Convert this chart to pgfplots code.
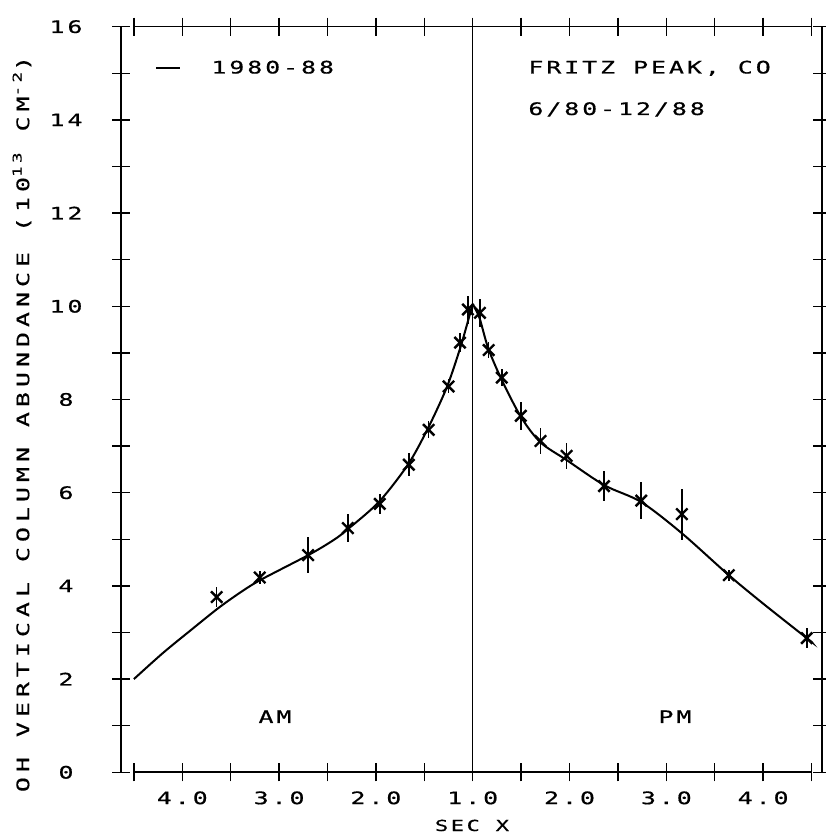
\documentclass[border=0pt]{standalone}
\usepackage{pgfplots}
\pgfplotsset{compat=1.18}
\usepackage{pgfplotstable}
\usepackage{fontspec}
\setmainfont{DejaVu Sans Mono}[FakeStretch=1.45,LetterSpace=17,FakeBold=0.6]

% x position u: AM side u = 1 - sec X, PM side u = sec X - 1
\pgfplotstableread{
u v e
-2.645 3.76 0.22
-2.200 4.18 0.15
-1.700 4.66 0.38
-1.290 5.24 0.30
-0.960 5.76 0.22
-0.660 6.60 0.25
-0.455 7.35 0.18
-0.250 8.28 0.15
-0.131 9.22 0.20
-0.050 9.93 0.30
}\amdata

\pgfplotstableread{
u v e
0.075 9.86 0.30
0.165 9.06 0.18
0.300 8.47 0.18
0.497 7.65 0.30
0.700 7.11 0.27
0.970 6.79 0.28
1.356 6.14 0.32
1.741 5.83 0.40
2.160 5.54 0.55
2.645 4.23 0.12
3.450 2.88 0.22
}\pmdata

\pgfplotstableread{
u v
-3.50 2.00
-3.20 2.56
-2.90 3.07
-2.63 3.52
-2.40 3.86
-2.19 4.13
-1.69 4.67
-1.44 4.98
-1.30 5.20
-0.97 5.80
-0.67 6.60
-0.47 7.35
-0.27 8.25
-0.13 9.10
-0.04 9.75
0.00 10.05
}\amcurve

\pgfplotstableread{
u v
0.00 10.05
0.07 9.75
0.16 9.10
0.30 8.42
0.50 7.62
0.70 7.08
0.97 6.70
1.36 6.16
1.74 5.80
2.16 5.13
2.645 4.23
3.00 3.62
3.45 2.88
3.50 2.80
}\pmcurve

\begin{document}
\fontsize{8.6pt}{10pt}\selectfont
\begin{tikzpicture}
\begin{axis}[
  at={(0,0)}, anchor=south west,
  scale only axis, width=350.5pt, height=372.8pt,
  xmin=-3.633, xmax=3.608, ymin=0, ymax=16,
  separate axis lines,
  x axis line style={draw=none},
  y axis line style={line width=0.8pt},
  xtick={-3,-2,-1,0,1,2,3},
  xticklabels={4.0,3.0,2.0,1.0,2.0,3.0,4.0},
  minor xtick={-3.5,-2.5,-1.5,-0.5,0.5,1.5,2.5,3.5},
  ytick={0,2,4,6,8,10,12,14,16},
  minor ytick={1,3,5,7,9,11,13,15},
  tick align=center,
  major tick length=9pt, minor tick length=9pt,
  tick style={line width=0.7pt, black},
  /pgf/number format/assume math mode=true,
  xticklabel style={anchor=center, yshift=-8.3pt},
  yticklabel style={anchor=center, xshift=-23pt},
  clip=false,
]
\draw[line width=0.8pt] (axis cs:-3.5,0) -- (axis cs:3.5,0);
\draw[line width=0.8pt] (axis cs:-3.5,16) -- (axis cs:3.5,16);
\draw[line width=0.5pt] (axis cs:0,0) -- (axis cs:0,16);

\addplot[black, line width=1pt, smooth, no markers] table[x=u,y=v] {\amcurve};
\addplot[black, line width=1pt, smooth, no markers] table[x=u,y=v] {\pmcurve};

\addplot[black, only marks, mark=x, mark size=4pt, mark options={line width=1.2pt},
  error bars/.cd, y dir=both, y explicit, error mark=none,
  error bar style={line width=0.8pt}]
  table[x=u,y=v,y error=e] {\amdata};
\addplot[black, only marks, mark=x, mark size=4pt, mark options={line width=1.2pt},
  error bars/.cd, y dir=both, y explicit, error mark=none,
  error bar style={line width=0.8pt}]
  table[x=u,y=v,y error=e] {\pmdata};
\end{axis}

\begin{scope}[x=0.5pt, y=-0.5pt, shift={(-60.5pt,386.15pt)}]
\draw[line width=0.8pt] (156,68) -- (180,68);
\node[anchor=base west, inner sep=0pt] at (211,73.5) {1980-88};
\node[anchor=base west, inner sep=0pt] at (528,73.5) {FRITZ PEAK, CO};
\node[anchor=base west, inner sep=0pt] at (528,115) {6/80-12/88};
\node[anchor=base, inner sep=0pt] at (275,723) {AM};
\node[anchor=base, inner sep=0pt] at (675,723) {PM};
\node[anchor=base, inner sep=0pt, font=\fontsize{7.6pt}{9pt}\selectfont] at (472,831) {SEC X};
\node[rotate=90, inner sep=0pt] at (22,424) {\addfontfeature{LetterSpace=29}OH VERTICAL COLUMN ABUNDANCE (10\textsuperscript{13} CM\textsuperscript{-2})};
\pgfresetboundingbox
\path[use as bounding box] (0,0) rectangle (825,839);
\end{scope}
\end{tikzpicture}
\end{document}
